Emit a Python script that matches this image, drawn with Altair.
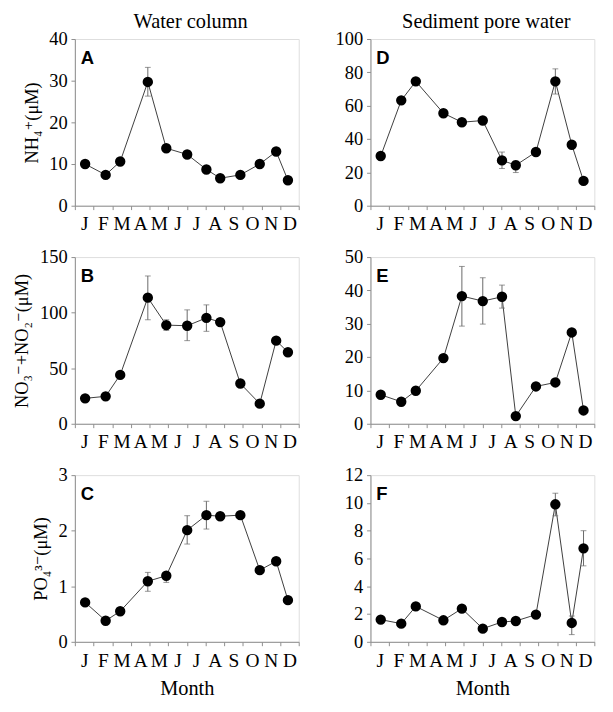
import altair as alt
import pandas as pd

MONTHS = ["J", "F", "M", "A", "M", "J", "J", "A", "S", "O", "N", "D"]
# sampling position (in months from 1 Jan)
SAMPLE_POS = [0.55, 1.65, 2.43, 3.91, 4.90, 6.02, 7.05, 7.79, 8.87, 9.91, 10.79, 11.42]

NH4_WC = [10.0, 7.4, 10.6, 29.7, 13.8, 12.3, 8.7, 6.6, 7.4, 10.0, 13.0, 6.1]
NH4_WC_LO = [None, None, None, 26.3, None, None, None, None, None, None, None, None]
NH4_WC_HI = [None, None, None, 33.2, None, None, None, None, None, None, None, None]

NOX_WC = [22.9, 24.7, 44.0, 113.5, 88.8, 88.2, 95.3, 91.5, 36.2, 18.1, 74.8, 64.4]
NOX_WC_LO = [None, None, None, 93.6, 84.0, 74.8, 83.2, None, None, None, None, None]
NOX_WC_HI = [None, None, None, 133.0, 93.6, 102.5, 107.0, None, None, None, None, None]

PO4_WC = [0.71, 0.38, 0.55, 1.09, 1.19, 2.01, 2.28, 2.26, 2.28, 1.29, 1.45, 0.75]
PO4_WC_LO = [None, None, None, 0.91, 1.07, 1.76, 2.03, None, None, None, None, None]
PO4_WC_HI = [None, None, None, 1.25, 1.25, 2.27, 2.53, None, None, None, None, None]

NH4_PW = [29.8, 63.2, 74.6, 55.5, 50.1, 51.1, 27.2, 24.3, 32.2, 74.6, 36.6, 14.9]
NH4_PW_LO = [None, None, None, None, None, None, 22.3, 19.9, None, 67.0, None, None]
NH4_PW_HI = [None, None, None, None, None, None, 32.2, 26.8, None, 82.1, None, None]

NOX_PW = [8.7, 6.6, 9.9, 19.7, 38.3, 36.8, 38.1, 2.3, 11.2, 12.4, 27.4, 4.0]
NOX_PW_LO = [None, None, None, None, 29.3, 29.9, 34.7, None, None, None, None, None]
NOX_PW_HI = [None, None, None, None, 47.2, 43.8, 41.6, None, None, None, None, None]

PO4_PW = [1.6, 1.31, 2.55, 1.55, 2.39, 0.95, 1.43, 1.5, 1.96, 9.9, 1.36, 6.73]
PO4_PW_LO = [None, None, None, None, None, None, None, None, None, 9.07, 0.52, 5.47]
PO4_PW_HI = [None, None, None, None, None, None, None, None, None, 10.7, 1.86, 8.0]

SERIF = "Liberation Serif, DejaVu Serif, serif"
SANS = "Liberation Sans, Arial, sans-serif"
GRAY = "#8c8c8c"
W, H = 231, 172

label_expr = "[" + ",".join("'" + m + "'" for m in MONTHS) + ",''][datum.value]"


def panel(values, lo, hi, ymax, ystep, letter, ytitle=None, coltitle=None, xtitle=None):
    df = pd.DataFrame({"pos": SAMPLE_POS, "value": values, "lo": lo, "hi": hi})
    err = df.dropna(subset=["lo", "hi"])
    xaxis_kw = dict(
        values=list(range(13)), tickCount=13, labelExpr=label_expr, labelOffset=W / 24,
        labelFlush=False, labelOverlap=False, grid=False, tickSize=4,
        labelPadding=5, labelFont=SERIF, labelFontSize=20, labelColor="black",
        domainColor=GRAY, tickColor=GRAY,
    )
    if xtitle:
        xaxis_kw.update(title=xtitle, titleFont=SERIF, titleFontSize=21,
                        titleFontWeight="normal", titlePadding=8, titleColor="black")
    else:
        xaxis_kw.update(title=None)
    yticks = list(range(0, ymax + 1, ystep))
    yaxis_kw = dict(
        values=yticks, tickCount=len(yticks), format="d", grid=False, tickSize=4,
        labelPadding=4, labelFont=SERIF, labelFontSize=19, labelColor="black",
        labelFlush=False, labelOverlap=False, domainColor=GRAY, tickColor=GRAY,
    )
    if ytitle:
        yaxis_kw.update(title=ytitle, titleFont=SERIF, titleFontSize=19,
                        titleFontWeight="normal", titlePadding=8, titleColor="black")
    else:
        yaxis_kw.update(title=None)

    xaxis = alt.Axis(**xaxis_kw)
    yaxis = alt.Axis(**yaxis_kw)
    xscale = alt.Scale(domain=[0, 12], nice=False, zero=False)
    yscale = alt.Scale(domain=[0, ymax], nice=False)
    X = alt.X("pos:Q", scale=xscale, axis=xaxis)

    def Y(field):
        return alt.Y(field, scale=yscale, axis=yaxis)

    base = alt.Chart(df)
    ebase = alt.Chart(err)
    line = base.mark_line(color="#3a3a3a", strokeWidth=1).encode(x=X, y=Y("value:Q"))
    rule = ebase.mark_rule(color="#666666", strokeWidth=1).encode(
        x=X, y=Y("lo:Q"), y2="hi:Q")
    cap_lo = ebase.mark_tick(color="#666666", orient="horizontal", size=6, thickness=1).encode(
        x=X, y=Y("lo:Q"))
    cap_hi = ebase.mark_tick(color="#666666", orient="horizontal", size=6, thickness=1).encode(
        x=X, y=Y("hi:Q"))
    pts = base.mark_circle(size=115, color="black", opacity=1).encode(x=X, y=Y("value:Q"))
    lab = alt.Chart(pd.DataFrame({"t": [letter]})).mark_text(
        font=SANS, fontSize=19, fontWeight="bold", align="left", baseline="alphabetic",
        color="black").encode(x=alt.value(6), y=alt.value(26), text="t:N")
    layers = [line, rule, cap_lo, cap_hi, pts, lab]
    if coltitle:
        ct = alt.Chart(pd.DataFrame({"t": [coltitle]})).mark_text(
            font=SERIF, fontSize=21, align="center", baseline="alphabetic",
            color="black").encode(x=alt.value(W / 2 + 4), y=alt.value(-11), text="t:N")
        layers.append(ct)
    return alt.layer(*layers).properties(width=W, height=H)


left = alt.vconcat(
    panel(NH4_WC, NH4_WC_LO, NH4_WC_HI, 40, 10, "A", "NH\u2084\u207a(\u03bcM)", "Water column"),
    panel(NOX_WC, NOX_WC_LO, NOX_WC_HI, 150, 50, "B", "NO\u2083\u207b+NO\u2082\u207b(\u03bcM)"),
    panel(PO4_WC, PO4_WC_LO, PO4_WC_HI, 3, 1, "C", "PO\u2084\u00b3\u207b(\u03bcM)", xtitle="Month"),
    spacing=13,
)
right = alt.vconcat(
    panel(NH4_PW, NH4_PW_LO, NH4_PW_HI, 100, 20, "D", coltitle="Sediment pore water"),
    panel(NOX_PW, NOX_PW_LO, NOX_PW_HI, 50, 10, "E"),
    panel(PO4_PW, PO4_PW_LO, PO4_PW_HI, 12, 2, "F", xtitle="Month"),
    spacing=13,
)
chart = alt.hconcat(left, right, spacing=26).properties(
    padding={"left": 5, "top": -8, "right": 0, "bottom": -10}
).configure_view(stroke=GRAY, strokeWidth=1).configure(background="white")

chart.save("out.html", embed_options={"renderer": "svg", "actions": False})
